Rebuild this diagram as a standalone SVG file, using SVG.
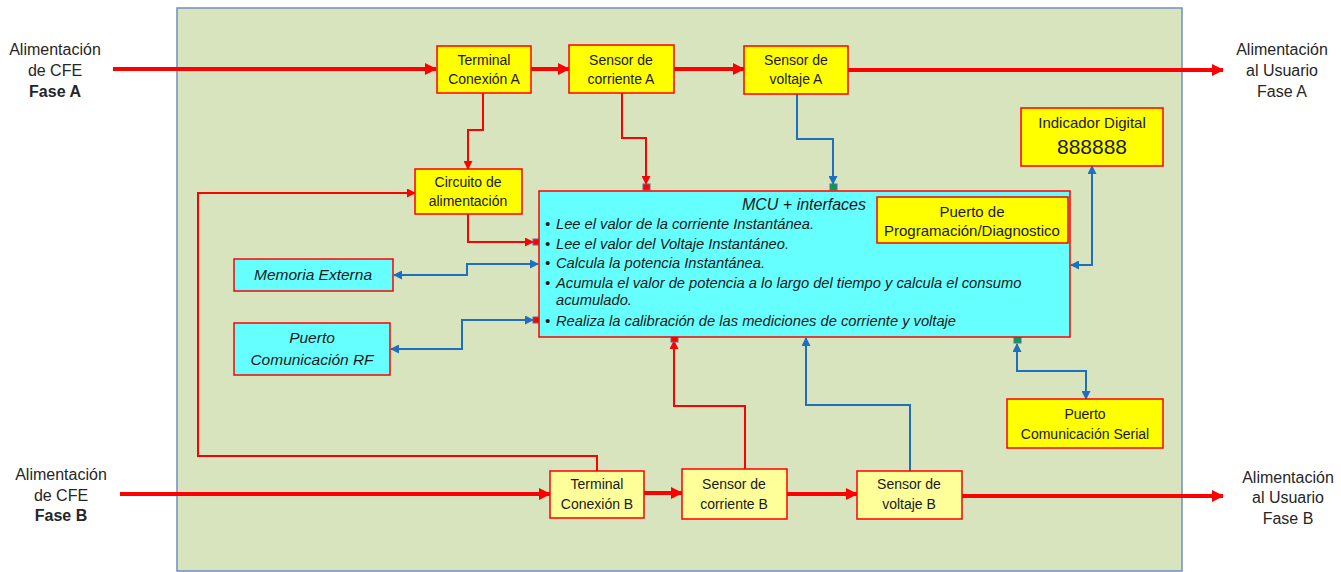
<svg xmlns="http://www.w3.org/2000/svg" width="1341" height="572" viewBox="0 0 1341 572">
<style>
.t{font-family:"Liberation Sans",Arial,sans-serif;fill:#1a1a1a;text-anchor:middle}
.lab{font-size:16px;fill:#262626}
.n{font-size:14px}
.n15{font-size:15px}
.it{font-style:italic;font-size:15.5px}
.by{fill:#ffff00;stroke:#ff0000;stroke-width:1.5}
.ly{fill:#ffff99;stroke:#ff0000;stroke-width:1.5}
.cy{fill:#66ffff;stroke:#ff0000;stroke-width:1.5}
.main{fill:none;stroke:#ff0000;stroke-width:4}
.rl{fill:none;stroke:#ff0000;stroke-width:2}
.bl{fill:none;stroke:#1f6fbf;stroke-width:2}
.sqr{fill:#ff0000;stroke:#5a6f9a;stroke-width:1}
.sqg{fill:#00a050;stroke:#5a6f9a;stroke-width:1}
.mcu{font-family:"Liberation Sans",Arial,sans-serif;font-style:italic;font-size:14.7px;fill:#1a1a1a}
</style>
<defs>
<marker id="am" markerUnits="userSpaceOnUse" markerWidth="12" markerHeight="12" refX="11" refY="6" orient="auto"><path d="M0,0 L12,6 L0,12 z" fill="#ff0000"/></marker>
<marker id="ar" markerUnits="userSpaceOnUse" markerWidth="9" markerHeight="9" refX="8" refY="4.5" orient="auto"><path d="M0,0 L9,4.5 L0,9 z" fill="#ff0000"/></marker>
<marker id="ab" markerUnits="userSpaceOnUse" markerWidth="9" markerHeight="9" refX="8" refY="4.5" orient="auto-start-reverse"><path d="M0,0 L9,4.5 L0,9 z" fill="#1f6fbf"/></marker>
</defs>
<rect x="177" y="8" width="1005" height="563" fill="#d7e4bd" stroke="#6f8fc0" stroke-width="1.5"/>

<g id="labels">
<text class="t lab" x="55" y="55">Alimentación</text>
<text class="t lab" x="55" y="76">de CFE</text>
<text class="t lab" x="55" y="97" font-weight="bold">Fase A</text>
<text class="t lab" x="1282" y="55">Alimentación</text>
<text class="t lab" x="1282" y="76">al Usuario</text>
<text class="t lab" x="1282" y="97">Fase A</text>
<text class="t lab" x="61" y="480">Alimentación</text>
<text class="t lab" x="61" y="501">de CFE</text>
<text class="t lab" x="61" y="521" font-weight="bold">Fase B</text>
<text class="t lab" x="1288" y="483">Alimentación</text>
<text class="t lab" x="1288" y="503">al Usuario</text>
<text class="t lab" x="1288" y="524">Fase B</text>
</g>

<g id="connectors">
<path class="main" d="M113,69 H436" marker-end="url(#am)"/>
<path class="main" d="M531,69 H569" marker-end="url(#am)"/>
<path class="main" d="M674,69 H744" marker-end="url(#am)"/>
<path class="main" d="M848,70 H1223" marker-end="url(#am)"/>
<path class="main" d="M120,494 H550" marker-end="url(#am)"/>
<path class="main" d="M644,493 H682" marker-end="url(#am)"/>
<path class="main" d="M787,494 H857" marker-end="url(#am)"/>
<path class="main" d="M962,496 H1223" marker-end="url(#am)"/>
<path class="rl" d="M483,93 V130 H468 V169" marker-end="url(#ar)"/>
<path class="rl" d="M622,93 V138 H646 V184" marker-end="url(#ar)"/>
<path class="bl" d="M797,94 V139 H833 V184" marker-end="url(#ab)"/>
<path class="rl" d="M468,214 V242 H533" marker-end="url(#ar)"/>
<path class="rl" d="M597,471 V456 H198 V193 H415" marker-end="url(#ar)"/>
<path class="bl" d="M394,275 H467 V264 H538" marker-start="url(#ab)" marker-end="url(#ab)"/>
<path class="bl" d="M391,349 H462 V320 H533" marker-start="url(#ab)" marker-end="url(#ab)"/>
<path class="rl" d="M745,469 V406 H674 V341" marker-end="url(#ar)"/>
<path class="bl" d="M910,471 V405 H806 V338" marker-end="url(#ab)"/>
<path class="bl" d="M1017,344 V371 H1086 V399" marker-start="url(#ab)" marker-end="url(#ab)"/>
<path class="bl" d="M1092,166 V265 H1071" marker-start="url(#ab)" marker-end="url(#ab)"/>
<rect class="sqr" x="643" y="184" width="7" height="6"/>
<rect class="sqg" x="830" y="184" width="7" height="6"/>
<rect class="sqr" x="533" y="239" width="6" height="6"/>
<rect class="sqr" x="533" y="317" width="6" height="6"/>
<rect class="sqr" x="671" y="336" width="7" height="6"/>
<rect class="sqg" x="1014" y="337" width="7" height="6"/>
</g>

<g id="terminalA"><rect class="by" x="437" y="46" width="94" height="47"/>
<text class="t n" x="484" y="65">Terminal</text><text class="t n" x="484" y="84">Conexión A</text></g>
<g id="sensorCorrienteA"><rect class="by" x="569" y="45" width="105" height="48"/>
<text class="t n" x="621" y="65">Sensor de</text><text class="t n" x="621" y="84">corriente A</text></g>
<g id="sensorVoltajeA"><rect class="by" x="744" y="46" width="104" height="48"/>
<text class="t n" x="796" y="65">Sensor de</text><text class="t n" x="796" y="84">voltaje A</text></g>
<g id="indicador"><rect class="by" x="1021" y="108" width="142" height="58"/>
<text class="t n15" x="1092" y="128">Indicador Digital</text><text class="t" x="1092" y="154" style="font-size:21px">888888</text></g>
<g id="circuito"><rect class="by" x="415" y="169" width="107" height="45"/>
<text class="t n" x="468" y="187">Circuito de</text><text class="t n" x="468" y="206">alimentación</text></g>
<g id="mcu"><rect class="cy" x="539" y="191" width="531" height="146"/>
<text class="mcu" x="804" y="210" style="text-anchor:middle;font-size:16px">MCU + interfaces</text>
<g class="mcu">
<text x="545" y="229">•</text><text x="556" y="229">Lee el valor de la corriente Instantánea.</text>
<text x="545" y="249">•</text><text x="556" y="249">Lee el valor del Voltaje Instantáneo.</text>
<text x="545" y="268">•</text><text x="556" y="268">Calcula la potencia Instantánea.</text>
<text x="545" y="288">•</text><text x="556" y="288">Acumula el valor de potencia a lo largo del tiempo y calcula el consumo</text>
<text x="556" y="305">acumulado.</text>
<text x="545" y="326">•</text><text x="556" y="326">Realiza la calibración de las mediciones de corriente y voltaje</text>
</g></g>
<g id="programacion"><rect class="by" x="877" y="197" width="191" height="46"/>
<text class="t n15" x="972" y="217">Puerto de</text><text class="t n15" x="972" y="236">Programación/Diagnostico</text></g>
<g id="memoria"><rect class="cy" x="234" y="259" width="159" height="32"/>
<text class="t it" x="313" y="280">Memoria Externa</text></g>
<g id="rf"><rect class="cy" x="234" y="323" width="156" height="52"/>
<text class="t it" x="312" y="343">Puerto</text><text class="t it" x="312" y="365">Comunicación RF</text></g>
<g id="serial"><rect class="by" x="1007" y="399" width="156" height="49"/>
<text class="t n" x="1085" y="419">Puerto</text><text class="t n" x="1085" y="439">Comunicación Serial</text></g>
<g id="terminalB"><rect class="ly" x="550" y="471" width="94" height="47"/>
<text class="t n" x="597" y="489">Terminal</text><text class="t n" x="597" y="509">Conexión B</text></g>
<g id="sensorCorrienteB"><rect class="ly" x="682" y="469" width="105" height="50"/>
<text class="t n" x="734" y="489">Sensor de</text><text class="t n" x="734" y="509">corriente B</text></g>
<g id="sensorVoltajeB"><rect class="ly" x="857" y="471" width="105" height="48"/>
<text class="t n" x="909" y="489">Sensor de</text><text class="t n" x="909" y="509">voltaje B</text></g>
</svg>
